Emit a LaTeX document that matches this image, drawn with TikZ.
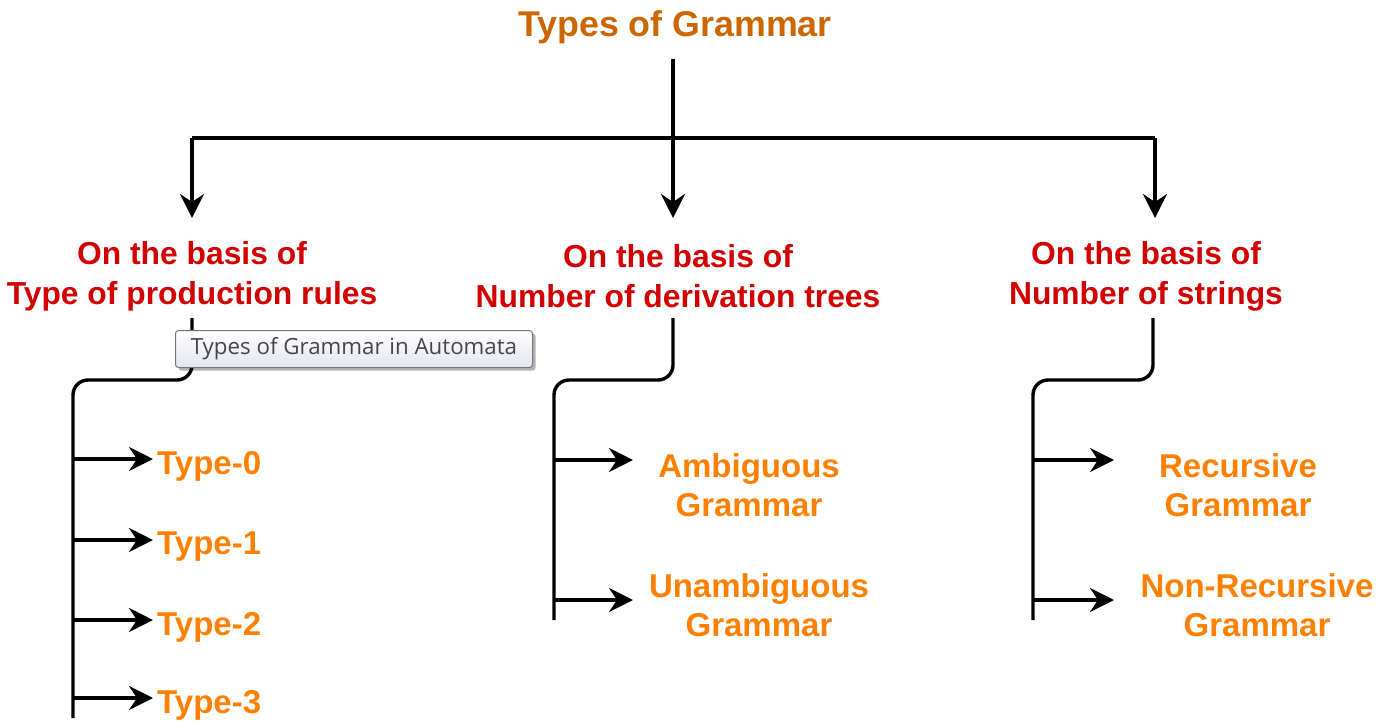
\documentclass[tikz,border=0pt]{standalone}
\usepackage{fontspec}
\setmainfont{Liberation Sans}
\newfontfamily\tipfont{Open Sans}
\usetikzlibrary{arrows.meta,shadows}
\definecolor{titlec}{RGB}{204,102,0}
\definecolor{redc}{RGB}{210,0,0}
\definecolor{orc}{RGB}{255,128,0}
\definecolor{tipborder}{RGB}{118,118,118}
\definecolor{tipbot}{RGB}{227,229,240}
\definecolor{tiptext}{RGB}{70,70,70}
\begin{document}
\begin{tikzpicture}[x=1pt,y=-1pt,
  line/.style={line width=3.4pt,black},
  arr/.style={line width=3.4pt,black,-{Stealth[length=24pt,width=24pt,inset=8pt]}},
  bus/.style={line width=3.4pt,black,rounded corners=15pt},
  ttl/.style={font=\fontsize{35.8}{40}\selectfont\bfseries,text=titlec,inner sep=0pt},
  cat/.style={font=\fontsize{31.8}{40}\selectfont\bfseries,text=redc,align=center,inner sep=0pt},
  leaf/.style={font=\fontsize{33}{39.5}\selectfont\bfseries,text=orc,align=center,inner sep=0pt},
  tip/.style={draw=tipborder,line width=1pt,rounded corners=3pt,top color=white,bottom color=tipbot,
    drop shadow={shadow xshift=3pt,shadow yshift=-3pt,opacity=0.3,fill=black},
    minimum width=357pt,minimum height=37pt,inner sep=0pt,
    font=\tipfont\fontsize{22.3}{24}\selectfont,text=tiptext}
]
\useasboundingbox (0,0) rectangle (1381,722);

% title and category labels
\node[ttl] (title) at (675,27) {Types of Grammar};
\node[cat] (c1) at (192,276) {On the basis of\\Type of production rules};
\node[cat] (c2) at (678,276) {On the basis of\\Number of derivation trees};
\node[cat] (c3) at (1146,276) {On the basis of\\Number of strings};

% top connectors
\coordinate (t0) at (673,59);
\coordinate (hL) at (192,138);
\coordinate (hR) at (1155,138);
\coordinate (a1) at (192,218);
\coordinate (a2) at (673,218);
\coordinate (a3) at (1155,218);
\draw[line] (hL) -- (hR);
\draw[arr] (t0) -- (a2);
\draw[arr] (hL) -- (a1);
\draw[arr] (hR) -- (a3);

% leaves
\node[leaf,anchor=west] (l0) at (157,466) {Type-0};
\node[leaf,anchor=west] (l1) at (157,547) {Type-1};
\node[leaf,anchor=west] (l2) at (157,627) {Type-2};
\node[leaf,anchor=west] (l3) at (157,705) {Type-3};
\node[leaf] (m1) at (749,485) {Ambiguous\\Grammar};
\node[leaf] (m2) at (759,605) {Unambiguous\\Grammar};
\node[leaf] (r1) at (1238,485) {Recursive\\Grammar};
\node[leaf] (r2) at (1257,605) {Non-Recursive\\Grammar};

% left bus
\coordinate (b1s) at (192,318);
\coordinate (b1e) at (73,718);
\draw[bus] (b1s) -- (192,380) -- (73,380) -- (b1e);
\draw[arr] (73,459) -- (153,459);
\draw[arr] (73,540) -- (153,540);
\draw[arr] (73,620) -- (153,620);
\draw[arr] (73,698) -- (153,698);

% middle bus
\coordinate (b2s) at (673,318);
\coordinate (b2e) at (554,620);
\draw[bus] (b2s) -- (673,380) -- (554,380) -- (b2e);
\draw[arr] (554,460) -- (633,460);
\draw[arr] (554,600) -- (633,600);

% right bus
\coordinate (b3s) at (1153,318);
\coordinate (b3e) at (1033,620);
\draw[bus] (b3s) -- (1153,380) -- (1033,380) -- (b3e);
\draw[arr] (1033,460) -- (1114,460);
\draw[arr] (1033,600) -- (1114,600);

% tooltip
\node[tip] (tt) at (354,349) {Types of Grammar in Automata};
\end{tikzpicture}
\end{document}
